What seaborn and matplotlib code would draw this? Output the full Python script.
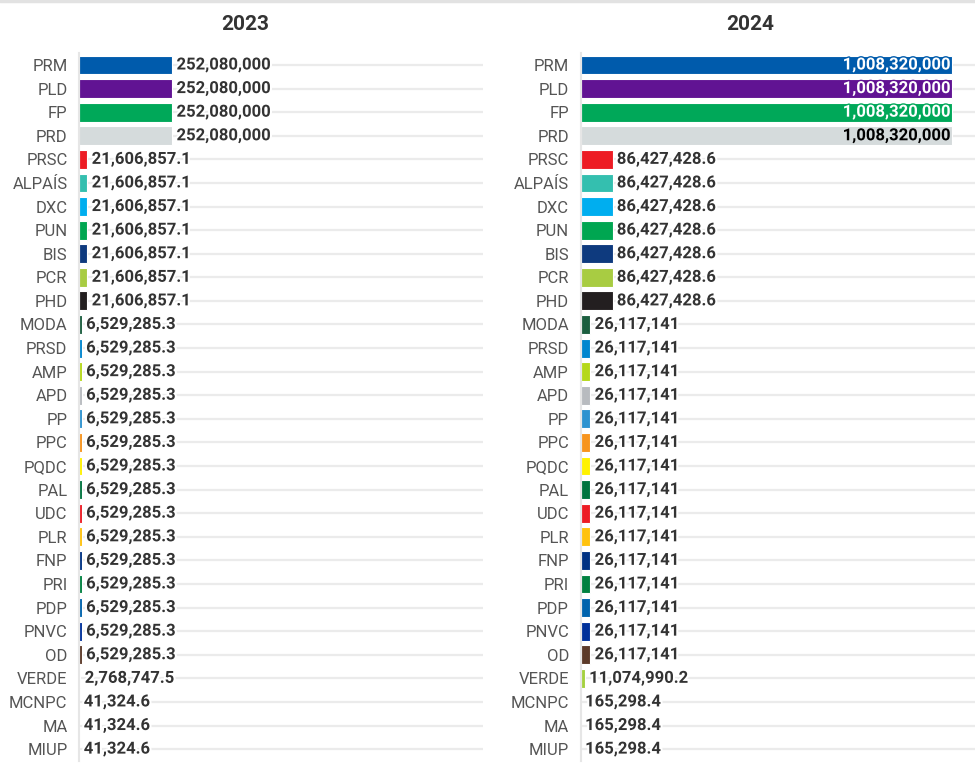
import pandas as pd
import matplotlib.pyplot as plt
import matplotlib.patheffects as pe
import seaborn as sns

# parties, top to bottom
parties = ['PRM', 'PLD', 'FP', 'PRD', 'PRSC', 'ALPAÍS', 'DXC', 'PUN', 'BIS', 'PCR', 'PHD',
           'MODA', 'PRSD', 'AMP', 'APD', 'PP', 'PPC', 'PQDC', 'PAL', 'UDC', 'PLR', 'FNP',
           'PRI', 'PDP', 'PNVC', 'OD', 'VERDE', 'MCNPC', 'MA', 'MIUP']

values_2023 = [252080000, 252080000, 252080000, 252080000,
               21606857.1, 21606857.1, 21606857.1, 21606857.1, 21606857.1, 21606857.1, 21606857.1,
               6529285.3, 6529285.3, 6529285.3, 6529285.3, 6529285.3, 6529285.3, 6529285.3,
               6529285.3, 6529285.3, 6529285.3, 6529285.3, 6529285.3, 6529285.3, 6529285.3,
               6529285.3, 2768747.5, 41324.6, 41324.6, 41324.6]

values_2024 = [1008320000, 1008320000, 1008320000, 1008320000,
               86427428.6, 86427428.6, 86427428.6, 86427428.6, 86427428.6, 86427428.6, 86427428.6,
               26117141, 26117141, 26117141, 26117141, 26117141, 26117141, 26117141,
               26117141, 26117141, 26117141, 26117141, 26117141, 26117141, 26117141,
               26117141, 11074990.2, 165298.4, 165298.4, 165298.4]

colors = ['#005bac', '#611393', '#00a859', '#d5dbdc', '#ed1c24', '#34bfaf', '#00aeef',
          '#00a651', '#0e3a7e', '#a8cc42', '#231f20', '#1b5e3f', '#0086cf', '#b5d81a',
          '#b8bbbf', '#2e93d0', '#f7941d', '#fff200', '#00743f', '#ed1c24', '#ffc20e',
          '#003283', '#008140', '#0063ad', '#00309a', '#5c3a29', '#a5d13f', '#999999',
          '#999999', '#999999']

years = ['2023', '2024']
inside_label_color = {'PRM': 'white', 'PLD': 'white', 'FP': 'white', 'PRD': 'black'}


def fmt(v):
    if float(v).is_integer():
        return f'{int(v):,}'
    return f'{v:,.1f}'


sns.set_theme(style='white')
plt.rcParams['font.family'] = ['Roboto', 'DejaVu Sans']

W, H = 975, 768
fig = plt.figure(figsize=(W / 100, H / 100), dpi=100)

palette = dict(zip(parties, colors))
px_per_unit = 0.368e-6
# axes boxes in pixels: left, right
boxes = [(79.3, 483.0), (580.7, 975.0)]
top_px, bot_px = 53.2, 760.9
title_x = [245, 750]

for i, (year, vals) in enumerate(zip(years, [values_2023, values_2024])):
    l, r = boxes[i]
    ax = fig.add_axes([l / W, 1 - bot_px / H, (r - l) / W, (bot_px - top_px) / H])
    df = pd.DataFrame({'party': parties, 'value': vals})
    sns.barplot(data=df, x='value', y='party', hue='party', palette=palette, order=parties,
                hue_order=parties, legend=False, saturation=1, width=0.8,
                edgecolor='white', linewidth=0.8, ax=ax)
    ax.set_xlim(0, (r - l) / px_per_unit)
    ax.set_ylim(len(parties) - 0.5, -0.5)
    ax.set_xlabel('')
    ax.set_ylabel('')
    ax.set_xticks([])
    ax.grid(axis='y', color='#ebebeb', linewidth=1.6)
    ax.set_axisbelow(True)
    for s in ['top', 'right', 'bottom']:
        ax.spines[s].set_visible(False)
    ax.spines['left'].set_color('#e6e6e6')
    ax.spines['left'].set_linewidth(1.5)
    ax.tick_params(axis='y', length=7, width=1.6, color='#e6e6e6', pad=1.5,
                   labelsize=12, labelcolor='#555555')

    xmax = ax.get_xlim()[1]
    for j, (p, v) in enumerate(zip(parties, vals)):
        label = fmt(v)
        if v + 0.25 * xmax > xmax:
            c = palette[p]
            ax.text(v - 0.004 * xmax, j, label, ha='right', va='center', fontsize=12,
                    fontweight='bold', color=inside_label_color.get(p, 'white'),
                    path_effects=[pe.withStroke(linewidth=2, foreground=c)])
        else:
            ax.text(v + 0.011 * xmax, j, label, ha='left', va='center', fontsize=12,
                    fontweight='bold', color='#333333',
                    path_effects=[pe.withStroke(linewidth=3, foreground='white')])

    fig.text(title_x[i] / W, 1 - 25 / H, year, ha='center', va='center',
             fontsize=15, fontweight='bold', color='#333333')

# thin shadow line at the very top
fig.add_artist(plt.Line2D([0, 1], [1 - 1 / H, 1 - 1 / H], color='#e2e2e2', linewidth=2.5,
                          transform=fig.transFigure))

fig.savefig('out.png', dpi=100)
